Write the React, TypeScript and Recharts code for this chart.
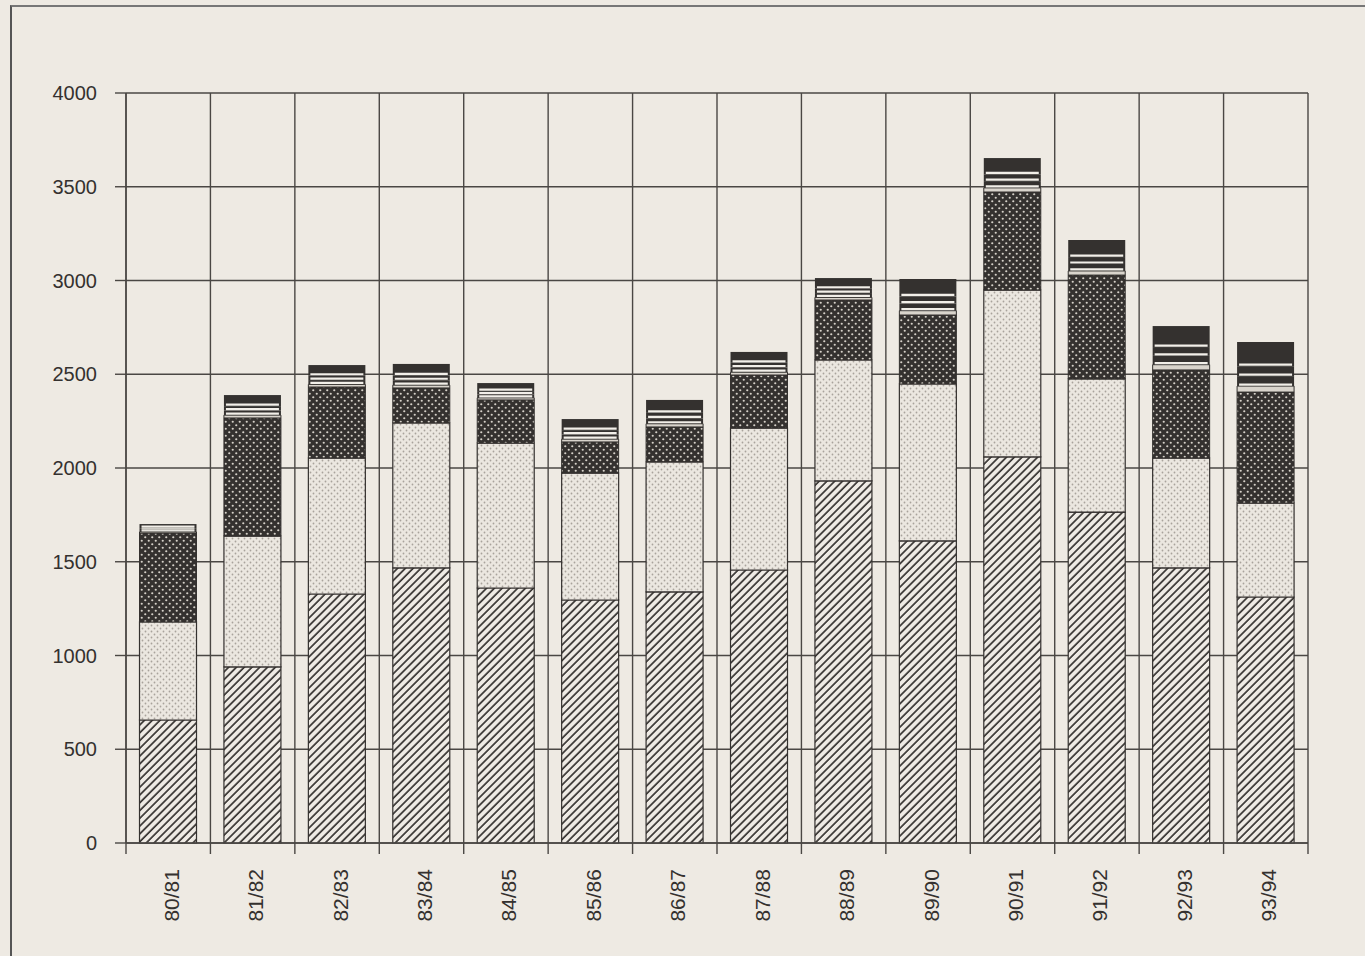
import { BarChart, Bar, XAxis, YAxis, CartesianGrid } from "recharts"

const SEASONS = ["80/81", "81/82", "82/83", "83/84", "84/85", "85/86", "86/87", "87/88", "88/89", "89/90", "90/91", "91/92", "92/93", "93/94"]

// stacked segments, bottom to top
const HATCHED = [656, 939, 1328, 1467, 1360, 1296, 1339, 1456, 1931, 1611, 2059, 1765, 1467, 1312]
const LIGHT_DOTS = [523, 698, 725, 773, 773, 677, 693, 757, 645, 837, 890, 710, 586, 501]
const DARK_DOTS = [474, 630, 379, 187, 230, 166, 187, 283, 320, 368, 523, 554, 470, 592]
const THIN_D = [6, 15, 14, 15, 11, 15, 17, 15, 14, 23, 22, 22, 28, 32]
const THIN_E = [10, 24, 23, 26, 18, 24, 29, 25, 23, 38, 36, 37, 47, 53]
const THIN_F = [10, 24, 23, 26, 18, 24, 29, 25, 23, 38, 36, 37, 47, 53]
const THIN_G = [22, 59, 57, 61, 43, 59, 69, 58, 57, 93, 87, 91, 112, 129]

const Y_TICKS = [0, 500, 1000, 1500, 2000, 2500, 3000, 3500, 4000]
const BOUNDARIES = SEASONS.map((_, i) => i).concat(SEASONS.length)

const data = SEASONS.map((s, i) => ({
  season: s,
  pos: i + 0.5,
  a: HATCHED[i], b: LIGHT_DOTS[i], c: DARK_DOTS[i],
  d: THIN_D[i], e: THIN_E[i], f: THIN_F[i], g: THIN_G[i],
}))

const PAPER = "#eeeae3"
const INK = "#34312f"
const LINE = "#4a4744"
const FONT = "'Liberation Sans', Arial, sans-serif"

function StripeShape(props: any) {
  const { x, y, width, height } = props
  if (!height || height <= 0) return null
  return (
    <g>
      <rect x={x} y={y} width={width} height={height} fill={INK} />
      <line x1={x + 2} x2={x + width - 2} y1={y + height - 1.5} y2={y + height - 1.5} stroke="#f2efe9" strokeWidth={2.2} />
    </g>
  )
}

function SeasonTick(props: any) {
  const { x, y, payload } = props
  const ty = y + 6
  return (
    <text x={x + 3} y={ty} transform={`rotate(-90, ${x + 3}, ${ty})`} textAnchor="end" dominantBaseline="central"
      fontFamily={FONT} fontSize={21} fill={INK}>
      {payload.value}
    </text>
  )
}

const NoLabel = () => <g />

export default function App() {
  return (
    <div style={{ position: "absolute", left: 0, top: 0, width: 1365, height: 956, background: PAPER, overflow: "hidden" }}>
      <div style={{ position: "absolute", left: 10, top: 5, width: 1400, height: 1000, borderLeft: "2px solid #555", borderTop: "2px solid #777" }} />
      <BarChart width={1365} height={956} data={data} margin={{ top: 93, right: 57, left: 0, bottom: 0 }} barCategoryGap="16%">
        <defs>
          <pattern id="hatch" width="5.5" height="5.5" patternUnits="userSpaceOnUse" patternTransform="rotate(45)">
            <rect width="5.5" height="5.5" fill="#efebe5" />
            <line x1="1" y1="0" x2="1" y2="5.5" stroke={INK} strokeWidth="1.7" />
          </pattern>
          <pattern id="lightDots" width="6" height="6" patternUnits="userSpaceOnUse">
            <rect width="6" height="6" fill="#ebe7e0" />
            <circle cx="1.5" cy="1.5" r="0.9" fill="#a8a39c" />
            <circle cx="4.5" cy="4.5" r="0.9" fill="#a8a39c" />
          </pattern>
          <pattern id="darkDots" width="7" height="7" patternUnits="userSpaceOnUse">
            <rect width="7" height="7" fill={INK} />
            <circle cx="1.75" cy="1.75" r="1.1" fill="#d6d1c9" />
            <circle cx="5.25" cy="5.25" r="1.1" fill="#d6d1c9" />
          </pattern>
        </defs>
        <CartesianGrid xAxisId="a_grid" stroke={LINE} strokeWidth={1.4} />
        <XAxis xAxisId="a_grid" type="number" dataKey="pos" domain={[0, SEASONS.length]} ticks={BOUNDARIES} interval={0}
          tick={<NoLabel />} tickSize={11} height={12} stroke={LINE} strokeWidth={1.4} />
        <XAxis xAxisId="b_cat" dataKey="season" axisLine={false} tickLine={false} tick={<SeasonTick />} interval={0} height={101} />
        <YAxis domain={[0, 4000]} ticks={Y_TICKS} interval={0} width={126} tickSize={11} tickMargin={18}
          stroke={LINE} strokeWidth={1.4} tick={{ fontFamily: FONT, fontSize: 20, fill: INK }} />
        <Bar xAxisId="b_cat" dataKey="a" stackId="s" fill="url(#hatch)" stroke={INK} strokeWidth={1.2} isAnimationActive={false} />
        <Bar xAxisId="b_cat" dataKey="b" stackId="s" fill="url(#lightDots)" stroke={INK} strokeWidth={1.2} isAnimationActive={false} />
        <Bar xAxisId="b_cat" dataKey="c" stackId="s" fill="url(#darkDots)" stroke={INK} strokeWidth={1} isAnimationActive={false} />
        <Bar xAxisId="b_cat" dataKey="d" stackId="s" fill="#d9d4cc" stroke={INK} strokeWidth={1} isAnimationActive={false} />
        <Bar xAxisId="b_cat" dataKey="e" stackId="s" shape={<StripeShape />} isAnimationActive={false} />
        <Bar xAxisId="b_cat" dataKey="f" stackId="s" shape={<StripeShape />} isAnimationActive={false} />
        <Bar xAxisId="b_cat" dataKey="g" stackId="s" shape={<StripeShape />} isAnimationActive={false} />
      </BarChart>
    </div>
  )
}
